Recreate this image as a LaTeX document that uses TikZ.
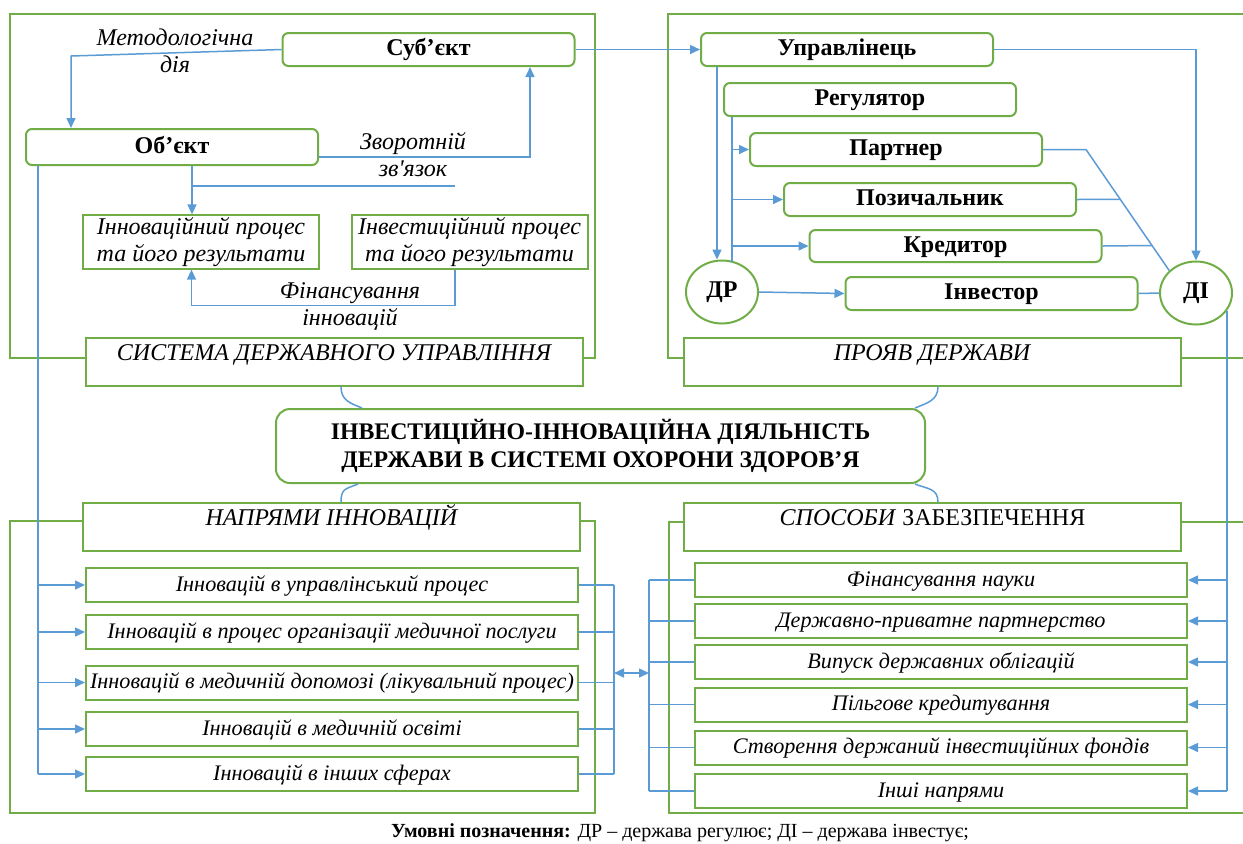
\documentclass[tikz,border=0pt]{standalone}
\usepackage{fontspec}
\setmainfont{Liberation Serif}
\usepackage{tikz}
\usetikzlibrary{positioning}
\usetikzlibrary{arrows.meta,shapes.geometric,calc}
\definecolor{grn}{RGB}{112,173,71}
\definecolor{blu}{RGB}{91,155,213}
\newcommand{\twelve}{\fontsize{12}{13.5}\selectfont}
\newcommand{\eleven}{\fontsize{11.1}{13}\selectfont}

\begin{document}
\begin{tikzpicture}[x=0.5pt, y=-0.5pt, font=\twelve,
            rbox/.style = {draw=grn, line width=1pt, rounded corners=3pt, minimum width=146pt, minimum height=16.5pt, inner ysep=1pt, text height=8.5pt, text depth=2.5pt, font=\twelve\bfseries},
            sbox/.style = {draw=grn, line width=1pt, minimum width=246pt, minimum height=17pt, inner sep=1pt, text height=8.5pt, text depth=2.5pt, font=\eleven\itshape},
            hbox/.style = {draw=grn, line width=1pt, minimum width=248.5pt, minimum height=24pt, inner sep=0pt, text height=9pt, text depth=10.5pt},
            pbox/.style = {draw=grn, line width=1pt, minimum width=118pt, minimum height=26pt, inner sep=1pt, align=center, font=\twelve\itshape},
            ell/.style = {draw=grn, line width=1pt, ellipse, minimum width=36pt, minimum height=31.5pt, inner sep=0pt, font=\twelve\bfseries},
            lbl/.style = {align=center, font=\twelve\itshape},
            frm/.style = {draw=grn, line width=1pt},
            conn/.style = {draw=blu, line width=0.75pt},
            arr/.style = {conn, -{Triangle[length=5pt,width=4.5pt]}},
            darr/.style = {conn, {Triangle[length=5pt,width=4.5pt]}-{Triangle[length=5pt,width=4.5pt]}}]
            \useasboundingbox (0,0) rectangle (1243,843);
            % Frames
            \draw[frm] (85,358) -- (10,358) -- (10,14) -- (595,14) -- (595,358) -- (583,358);
            \draw[frm] (684,358) -- (668,358) -- (668,14) -- (1243,14);
            \draw[frm] (1180,358) -- (1243,358);
            \draw[frm] (83,521) -- (10,521) -- (10,813) -- (595,813) -- (595,521) -- (580,521);
            \draw[frm] (684,522) -- (669,522) -- (669,813) -- (1243,813);
            \draw[frm] (1181,522) -- (1243,522);
            % Nodes
            \node[rbox] (sub) at (428.5,49.5) {Суб’єкт};
            \node[rbox, minimum height=18pt] (obj) at (172,147) {Об’єкт};
            \node[pbox] (inn) at (201,242) {Інноваційний процес\\та його результати};
            \node[pbox] (inv) at (469.5,242) {Інвестиційний процес\\та його результати};
            \node[hbox] (sys) at (334,361.5) {\itshape СИСТЕМА ДЕРЖАВНОГО УПРАВЛІННЯ};
            \node[lbl] (t1) at (175,50.5) {Методологічна\\дія};
            \node[lbl] (t2) at (413,154.5) {Зворотній\\зв\textquotesingle язок};
            \node[lbl] (t3) at (350,306.5) {Фінансування\\інновацій};
            \node[rbox] (upr) at (847,49.5) {Управлінець};
            \node[rbox] (reg) at (870,99.5) {Регулятор};
            \node[rbox] (par) at (896,149.5) {Партнер};
            \node[rbox] (poz) at (930,199.5) {Позичальник};
            \node[rbox, minimum height=16pt] (kre) at (955.5,246) {Кредитор};
            \node[rbox] (inr) at (991.5,293.5) {Інвестор};
            \node[ell] (dr) at (722,292) {ДР};
            \node[ell] (di) at (1196,293) {ДІ};
            \node[hbox] (prj) at (932,361.5) {\itshape ПРОЯВ ДЕРЖАВИ};
            \node[draw=grn, line width=1pt, rounded corners=7pt, minimum width=324.5pt, minimum height=37pt, align=center, font=\fontsize{11.9}{14}\selectfont\bfseries] (mid) at (600.5,446) {ІНВЕСТИЦІЙНО-ІННОВАЦІЙНА ДІЯЛЬНІСТЬ\\ДЕРЖАВИ В СИСТЕМІ ОХОРОНИ ЗДОРОВ’Я};
            \node[hbox] (npr) at (331.5,527) {\itshape НАПРЯМИ ІННОВАЦІЙ};
            \node[hbox] (spb) at (932.5,527) {\textit{СПОСОБИ} ЗАБЕЗПЕЧЕННЯ};
            \node[sbox] (n1) at (332,585) {Інновацій в управлінський процес};
            \node[sbox] (n2) at (332,632) {Інновацій в процес організації медичної послуги};
            \node[sbox] (n3) at (332,682.5) {Інновацій в медичній допомозі (лікувальний процес)};
            \node[sbox] (n4) at (332,729) {Інновацій в медичній освіті};
            \node[sbox] (n5) at (332,774) {Інновацій в інших сферах};
            \node[sbox] (s1) at (941,580) {Фінансування науки};
            \node[sbox] (s2) at (941,621) {Державно-приватне партнерство};
            \node[sbox] (s3) at (941,662) {Випуск державних облігацій};
            \node[sbox] (s4) at (941,704.5) {Пільгове кредитування};
            \node[sbox] (s5) at (941,747.5) {Створення держаний інвестиційних фондів};
            \node[sbox] (s6) at (941,791) {Інші напрями};
            \node (leg) at (680,833) {\fontsize{10}{12}\selectfont\textbf{Умовні позначення:} ДР – держава регулює; ДІ – держава інвестує;};
            % Edges
            \coordinate (m) at (71,56);
            \draw[arr] (sub.west) -- (m) -- (m |- obj.north);
            \draw[arr] ([yshift=-5pt]obj.east) -| ([xshift=50.75pt]sub.south);
            \coordinate (a) at ([xshift=-4.5pt]inn.north);
            \coordinate (fb) at (455,186);
            \draw[arr] (a |- obj.south) -- (a);
            \draw[conn] (a |- fb) -- (fb);
            \draw[arr] ([xshift=-7.25pt]inv.south) -- ++(0,36) -| ([xshift=-4.75pt]inn.south);
            \coordinate (L) at ([xshift=-67pt]obj.south);
            \draw[conn] (L) -- (L |- n5.west);
            \foreach \i in {1,...,5} \draw[arr] (L |- n\i.west) -- (n\i.west);
            \draw[arr] (sub.east) -- (upr.west);
            \draw[arr] (upr.east) -| (di.north);
            \coordinate (U) at ([xshift=-65pt]upr.south);
            \draw[arr] (U) -- (U |- dr.north);
            \coordinate (R) at ([xshift=-69pt]reg.south);
            \draw[conn] (R) -- ([yshift=-1pt]R |- dr.north);
            \foreach \n in {par,poz,kre} \draw[arr] (R |- \n.west) -- (\n.west);
            \draw[arr] (dr.east) -- (inr.west);
            \coordinate (pb) at ([xshift=21.5pt]par.east);
            \draw[conn] (par.east) -- (pb) -- (di.140);
            \path (pb) -- (di.140) coordinate[pos=0.411] (d1) coordinate[pos=0.793] (d2);
            \draw[conn] (poz.east) -- (d1);
            \draw[conn] (kre.east) -- (d2);
            \draw[conn] (inr.east) -- (di.west);
            \coordinate (D) at (di.-30);
            \draw[conn] (D) -- (D |- s6.east);
            \foreach \i in {1,...,6} \draw[arr] (D |- s\i.east) -- (s\i.east);
            \coordinate (bl) at (614,673);
            \coordinate (br) at (649,673);
            \foreach \i in {1,...,5} \draw[conn] (n\i.east) -- (n\i.east -| bl);
            \draw[conn] (n1.east -| bl) -- (n5.east -| bl);
            \foreach \i in {1,...,6} \draw[conn] (s\i.west -| br) -- (s\i.west);
            \draw[conn] (s1.west -| br) -- (s6.west -| br);
            \draw[darr] (bl) -- (br);
            \draw[conn] ([xshift=3.5pt]sys.south) .. controls +(0,14) and +(-12,-5) .. ([xshift=-119.25pt]mid.north);
            \draw[conn] ([xshift=3pt]prj.south) .. controls +(0,14) and +(12,-5) .. ([xshift=157.25pt]mid.north);
            \draw[conn] ([xshift=-121.25pt]mid.south) .. controls +(-12,5) and +(0,-14) .. ([xshift=4.75pt]npr.north);
            \draw[conn] ([xshift=157.25pt]mid.south) .. controls +(12,5) and +(0,-14) .. ([xshift=2.75pt]spb.north);
\end{tikzpicture}
\end{document}
